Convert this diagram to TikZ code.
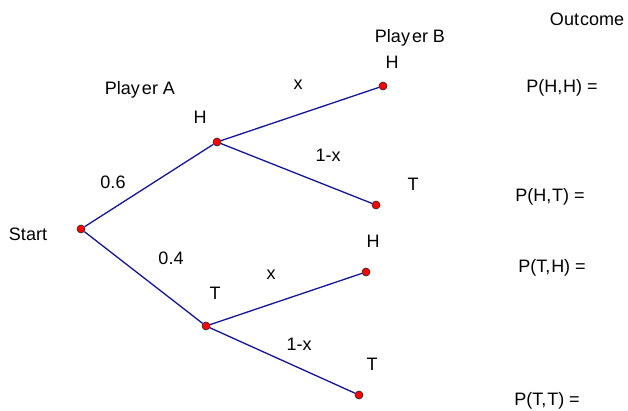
\documentclass[tikz,border=0pt]{standalone}
\usepackage{fontspec}
\setmainfont{Liberation Sans}
\usepackage{tikz}
\usetikzlibrary{positioning}

\begin{document}
\begin{tikzpicture}[x=1pt,y=-1pt,line join=round,
  font=\fontsize{18}{21}\selectfont,
  dot/.style={circle,draw=black!85,line width=0.6pt,fill=red,inner sep=0pt,minimum size=8pt},
  branch/.style={draw={rgb,255:red,20;green,20;blue,150},line width=1.3pt},
  lbl/.style={inner sep=0pt}]
\useasboundingbox (0,0) rectangle (628,410);
% tree points
\node[dot] (start) at (81,229) {};
\node[dot] (aH) at (217,142) {};
\node[dot] (aT) at (206,326) {};
\node[dot] (bHH) at (383,86) {};
\node[dot] (bHT) at (376,205) {};
\node[dot] (bTH) at (366,272) {};
\node[dot] (bTT) at (359,395) {};
% branches
\draw[branch] (start) -- (aH);
\draw[branch] (start) -- (aT);
\draw[branch] (aH) -- (bHH);
\draw[branch] (aH) -- (bHT);
\draw[branch] (aT) -- (bTH);
\draw[branch] (aT) -- (bTT);
% headings
\node[lbl] (hdA) at (140,90) {Play\kern2pt er A};
\node[lbl] (hdB) at (410,38) {Play\kern2pt er B};
\node[lbl] (hdO) at (587,19) {Out\kern1pt come};
\node[lbl] (lStart) at (28,234) {Start};
% outcomes of A
\node[lbl] (lH) at (200,117) {H};
\node[lbl] (lT) at (215,293) {T};
\node[lbl] (p6) at (113,182) {0.6};
\node[lbl] (p4) at (171,258) {0.4};
% outcomes of B
\node[lbl] (lHH) at (392,62) {H};
\node[lbl] (lHT) at (413,184) {T};
\node[lbl] (lTH) at (373,241) {H};
\node[lbl] (lTT) at (372,364) {T};
\node[lbl] (pHx) at (298,85) {x};
\node[lbl] (pHy) at (328,155) {1-x};
\node[lbl] (pTx) at (271,275) {x};
\node[lbl] (pTy) at (299,344) {1-x};
% probabilities
\node[lbl] (oHH) at (562,88) {P(H,\kern1pt H) =};
\node[lbl] (oHT) at (550,197) {P(H,\kern1pt T) =};
\node[lbl] (oTH) at (552,268) {P(T,\kern1pt H) =};
\node[lbl] (oTT) at (547,401) {P(T,\kern1pt T) =};
\end{tikzpicture}
\end{document}
